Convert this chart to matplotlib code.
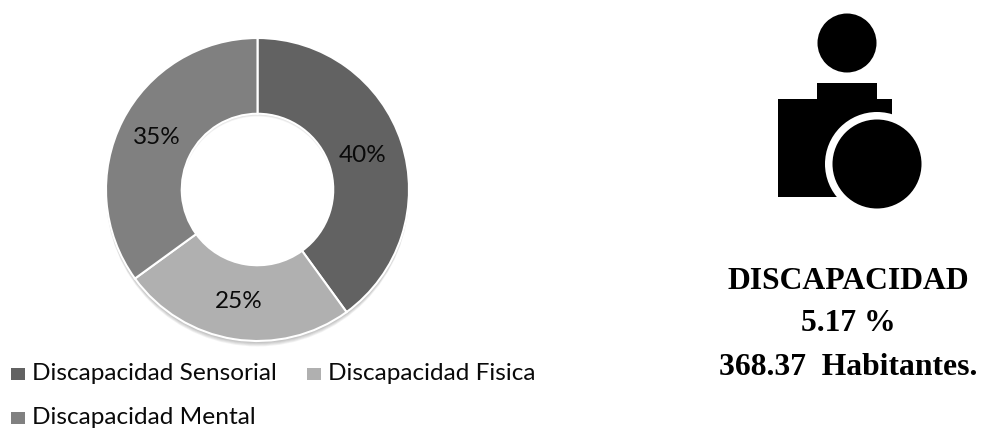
import matplotlib
matplotlib.use("Agg")
import matplotlib.pyplot as plt
from matplotlib.patches import Circle, Rectangle

categories = ["Discapacidad Sensorial", "Discapacidad Fisica", "Discapacidad Mental"]
values = [40, 25, 35]
colors = ["#626262", "#b0b0b0", "#808080"]
pct_labels = ["40%", "25%", "35%"]
info_lines = ["DISCAPACIDAD", "5.17 %", "368.37  Habitantes."]

W, H = 983, 430
fig = plt.figure(figsize=(W / 100, H / 100), dpi=100)

# axes a bit larger than the donut so the shadow has room
pad = 1.08
side = 303 * pad
ax = fig.add_axes([(257.5 - side / 2) / W, 1 - (189.5 + side / 2) / H, side / W, side / H])

# soft drop shadow under the ring and inside the top of the hole
for i in range(6):
    ax.add_patch(Circle((0, -0.006 * (i + 1)), 1.0, color="black", alpha=0.05, lw=0, zorder=0))
ax.add_patch(Circle((0, 0), 0.5, color="#d4d4d4", lw=0, zorder=0.5))
for i, c in enumerate(["#e4e4e4", "#f2f2f2", "white"]):
    ax.add_patch(Circle((0, -0.006 * (i + 1)), 0.5, color=c, lw=0, zorder=0.6 + i * 0.1))

wedges, _ = ax.pie(
    values,
    colors=colors,
    startangle=90,
    counterclock=False,
    radius=1.0,
    wedgeprops=dict(width=0.5, edgecolor="white", linewidth=1.5, zorder=2),
)
ax.set_xlim(-pad, pad)
ax.set_ylim(-pad, pad)

# pixel canvas for icon, legend and text, on top of the donut
bg = fig.add_axes([0, 0, 1, 1])
bg.set_xlim(0, W)
bg.set_ylim(H, 0)
bg.axis("off")

label_pos = [(363, 155), (239, 302), (157, 138)]
for (x, y), s in zip(label_pos, pct_labels):
    bg.text(x, y, s, fontsize=17.5, ha="center", va="center",
            family="Lato", color="#0a0a0a", zorder=5)

# legend, drawn by hand to keep the two-row layout
legend_pos = [(11, 380), (307, 380), (11, 424)]
for (x, y), name, c in zip(legend_pos, categories, colors):
    bg.add_patch(Rectangle((x, y - 12.5), 13.5, 12.5, color=c, lw=0))
    bg.text(x + 21, y, name, fontsize=17.6, va="baseline", family="Lato", color="#0a0a0a")

# icon
bg.add_patch(Circle((847, 43), 29.5, color="black", lw=0))
bg.add_patch(Rectangle((817, 83), 60, 30, color="black", lw=0))
bg.add_patch(Rectangle((778, 99), 114, 98, color="black", lw=0))
bg.add_patch(Rectangle((892, 113), 40, 90, color="white", lw=0))
bg.add_patch(Circle((877, 164), 52, color="white", lw=0))
bg.add_patch(Circle((877, 164), 44.5, color="black", lw=0))

for y, s in zip([289, 331, 375], info_lines):
    bg.text(848, y, s, fontsize=22.8, fontweight="bold", ha="center", va="baseline",
            family="Liberation Serif", color="black")

fig.savefig("out.png", dpi=100)
